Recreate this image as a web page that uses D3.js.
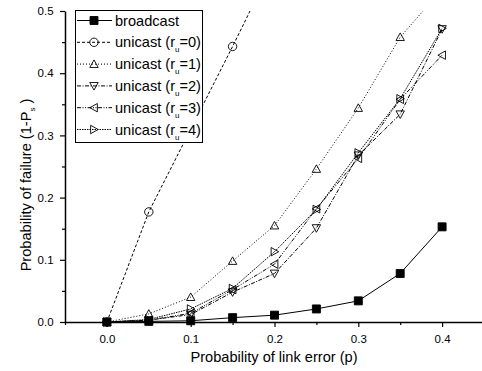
<!DOCTYPE html>
<html>
<head>
<meta charset="utf-8">
<script src="https://cdn.jsdelivr.net/npm/d3@7"></script>
<style>
  body { margin: 0; background: #fff; }
  svg { display: block; font-family: "Liberation Sans", Arial, sans-serif; }
</style>
</head>
<body>
<div id="chart"></div>
<script>
// link error probabilities
const pValues = [0, 0.05, 0.1, 0.15, 0.2, 0.25, 0.3, 0.35, 0.4];

const broadcast = [0, 0.001, 0.002, 0.007, 0.011, 0.021, 0.034, 0.078, 0.153];
const unicastR0 = [0, 0.177, 0.31, 0.443, 0.58];
const unicastR1 = [0, 0.013, 0.04, 0.098, 0.155, 0.246, 0.344, 0.458, 0.535];
const unicastR2 = [0, 0.003, 0.012, 0.048, 0.078, 0.151, 0.268, 0.334, 0.471];
const unicastR3 = [0, 0.003, 0.014, 0.052, 0.093, 0.182, 0.263, 0.358, 0.429];
const unicastR4 = [0, 0.004, 0.021, 0.054, 0.113, 0.181, 0.272, 0.359, 0.472];

const xTicks = [0, 0.1, 0.2, 0.3, 0.4];
const yTicks = [0, 0.1, 0.2, 0.3, 0.4, 0.5];

const series = [
  {name: 'broadcast', sub: null, suffix: '', values: broadcast, dash: null, marker: 'square'},
  {name: 'unicast (r', sub: 'u', suffix: '=0)', values: unicastR0, dash: '3,2', marker: 'circle'},
  {name: 'unicast (r', sub: 'u', suffix: '=1)', values: unicastR1, dash: '1,2', marker: 'up'},
  {name: 'unicast (r', sub: 'u', suffix: '=2)', values: unicastR2, dash: '4,1.5,1,1.5', marker: 'down'},
  {name: 'unicast (r', sub: 'u', suffix: '=3)', values: unicastR3, dash: '4,1.5,1,1.5,1,1.5', marker: 'left'},
  {name: 'unicast (r', sub: 'u', suffix: '=4)', values: unicastR4, dash: '1.5,1', marker: 'right'}
];

const width = 482, height = 371;
const margin = {left: 65, top: 11, bottom: 49};

const svg = d3.select('#chart').append('svg')
  .attr('width', width)
  .attr('height', height);

const x = d3.scaleLinear().domain([-0.05, 0.45]).range([margin.left, 484]);
const y = d3.scaleLinear().domain([0, 0.5]).range([height - margin.bottom, margin.top]);

svg.append('defs').append('clipPath').attr('id', 'plot-clip')
  .append('rect')
  .attr('x', margin.left).attr('y', y(0.5))
  .attr('width', width - margin.left).attr('height', y(0) - y(0.5) + 10);

// axes
const xAxis = svg.append('g')
  .attr('transform', `translate(0,${y(0)})`)
  .call(d3.axisBottom(x).tickValues(xTicks).tickFormat(d3.format('.1f')).tickSize(5).tickSizeOuter(0));
svg.append('g')
  .attr('transform', `translate(0,${y(0)})`)
  .call(d3.axisBottom(x).tickValues([-0.05, 0.05, 0.15, 0.25, 0.35]).tickFormat('').tickSize(3).tickSizeOuter(0))
  .select('.domain').remove();

const yAxis = svg.append('g')
  .attr('transform', `translate(${margin.left},0)`)
  .call(d3.axisLeft(y).tickValues(yTicks).tickFormat(d3.format('.1f')).tickSize(5).tickSizeOuter(0));
svg.append('g')
  .attr('transform', `translate(${margin.left},0)`)
  .call(d3.axisLeft(y).tickValues([0.05, 0.15, 0.25, 0.35, 0.45]).tickFormat('').tickSize(3).tickSizeOuter(0))
  .select('.domain').remove();

svg.selectAll('.domain').attr('stroke', '#000').attr('stroke-width', 1.5);
svg.selectAll('.tick line').attr('stroke', '#000').attr('stroke-width', 1.2);
xAxis.selectAll('text').attr('font-size', 11.5).attr('font-family', null).attr('dy', '1.1em').attr('fill', '#000');
yAxis.selectAll('text').attr('font-size', 11.5).attr('font-family', null).attr('dx', '-0.3em').attr('fill', '#000');

// axis titles
svg.append('text')
  .attr('x', 274).attr('y', 362)
  .attr('text-anchor', 'middle')
  .attr('font-size', 14.6)
  .text('Probability of link error (p)');

const yTitle = svg.append('text')
  .attr('transform', 'translate(31,185) rotate(-90)')
  .attr('text-anchor', 'middle')
  .attr('font-size', 14.6);
yTitle.append('tspan').text('Probability of failure (1-P');
yTitle.append('tspan').attr('font-size', 8).attr('dy', 4).text('s');
yTitle.append('tspan').attr('dy', -4).text(' )');

// markers
function markerPath(type, s) {
  const path = d3.path();
  if (type === 'square') {
    path.rect(-s, -s, 2 * s, 2 * s);
  } else if (type === 'circle') {
    path.arc(0, 0, s, 0, 2 * Math.PI);
  } else {
    const pts = {
      up: [[0, -s], [s, s * 0.8], [-s, s * 0.8]],
      down: [[0, s], [s, -s * 0.8], [-s, -s * 0.8]],
      left: [[-s, 0], [s * 0.8, -s], [s * 0.8, s]],
      right: [[s, 0], [-s * 0.8, -s], [-s * 0.8, s]]
    }[type];
    path.moveTo(pts[0][0], pts[0][1]);
    path.lineTo(pts[1][0], pts[1][1]);
    path.lineTo(pts[2][0], pts[2][1]);
    path.closePath();
  }
  return path.toString();
}

function drawMarker(g, type, cx, cy) {
  const filled = type === 'square';
  g.append('path')
    .attr('d', markerPath(type, filled ? 4 : 4.2))
    .attr('transform', `translate(${cx},${cy})`)
    .attr('fill', filled ? '#000' : '#fff')
    .attr('fill-opacity', filled ? 1 : 0)
    .attr('stroke', '#000')
    .attr('stroke-width', 0.9);
}

const line = d3.line()
  .x((d, i) => x(pValues[i]))
  .y(d => y(d));

const plot = svg.append('g').attr('clip-path', 'url(#plot-clip)');

// draw in reverse so broadcast is on top
series.slice().reverse().forEach(s => {
  const g = plot.append('g');
  g.append('path')
    .datum(s.values)
    .attr('d', line)
    .attr('fill', 'none')
    .attr('stroke', '#000')
    .attr('stroke-width', 1)
    .attr('stroke-dasharray', s.dash);
  s.values.forEach((v, i) => {
    if (v <= 0.5) drawMarker(g, s.marker, x(pValues[i]), y(v));
  });
});

// legend
const legend = svg.append('g');
legend.append('rect')
  .attr('x', 75.5).attr('y', 10.5)
  .attr('width', 127).attr('height', 132)
  .attr('fill', '#fff')
  .attr('stroke', '#000')
  .attr('stroke-width', 1);

series.forEach((s, i) => {
  const ly = 20.5 + i * 21.8;
  legend.append('line')
    .attr('x1', 77).attr('x2', 112)
    .attr('y1', ly).attr('y2', ly)
    .attr('stroke', '#000')
    .attr('stroke-width', 1)
    .attr('stroke-dasharray', s.dash);
  drawMarker(legend, s.marker, 94, ly);
  const t = legend.append('text')
    .attr('x', 115).attr('y', ly + 5)
    .attr('font-size', 14.6);
  t.append('tspan').text(s.name);
  if (s.sub) {
    t.append('tspan').attr('font-size', 8).attr('dy', 5).text(s.sub);
    t.append('tspan').attr('dy', -5).text(s.suffix);
  }
});
</script>
</body>
</html>
